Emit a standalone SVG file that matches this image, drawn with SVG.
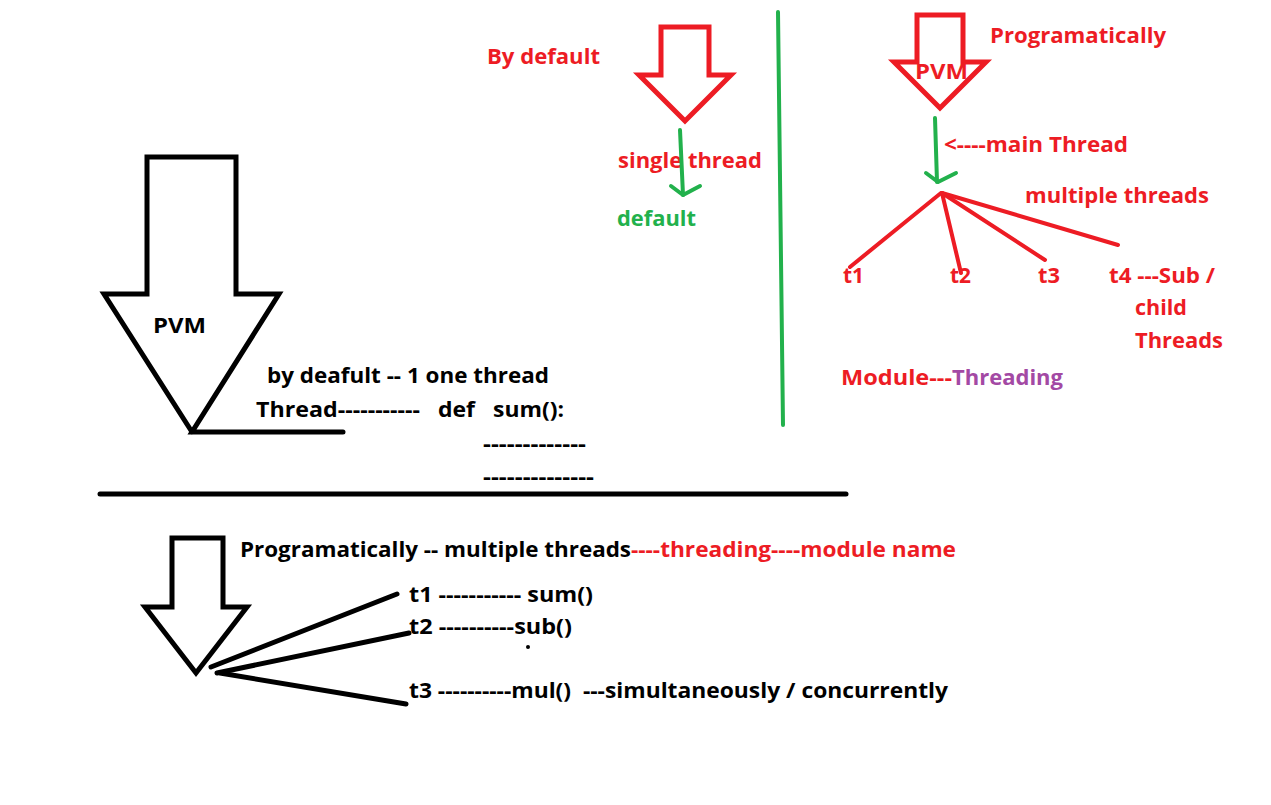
<svg xmlns="http://www.w3.org/2000/svg" width="1271" height="805" viewBox="0 0 1271 805">
<style>
text{font-family:"Open Sans","Noto Sans","Liberation Sans",sans-serif;font-weight:bold;font-size:21px}
.r{fill:#ed1c24}.g{fill:#22b14c}.p{fill:#a349a4}.k{fill:#000}
.sr{fill:none;stroke:#ed1c24;stroke-width:5;stroke-linejoin:miter;stroke-linecap:round}
.sg{fill:none;stroke:#22b14c;stroke-width:4;stroke-linecap:round;stroke-linejoin:round}
.sk{fill:none;stroke:#000;stroke-width:5;stroke-linejoin:miter;stroke-linecap:round}
.lr{stroke:#ed1c24;stroke-width:4;stroke-linecap:round}
.lk{stroke:#000;stroke-width:5;stroke-linecap:round}
.b{font-size:22px}
</style>
<rect width="1271" height="805" fill="#fff"/>

<g id="default-arrow">
<polygon class="sr" points="661,27 709,27 709,75 731,75 685,121 639,75 661,75"/>
<text class="r" x="487" y="64" textLength="113" lengthAdjust="spacingAndGlyphs">By default</text>
</g>
<g id="single-thread">
<text class="r" x="618" y="168" textLength="144" lengthAdjust="spacingAndGlyphs">single thread</text>
<text class="g" x="617" y="226" textLength="79" lengthAdjust="spacingAndGlyphs">default</text>
</g>

<g id="prog-arrow">
<polygon class="sr" points="917,15 963,15 963,62 986,62 940,108 894,62 917,62"/>
<text class="r" x="990" y="43" textLength="176" lengthAdjust="spacingAndGlyphs">Programatically</text>
<text class="r" x="915" y="79" font-size="20" textLength="53" lengthAdjust="spacingAndGlyphs">PVM</text>
</g>
<g id="main-thread">
<text class="r" x="944" y="152" textLength="184" lengthAdjust="spacingAndGlyphs">&lt;----main Thread</text>
<text class="r" x="1025" y="203" textLength="184" lengthAdjust="spacingAndGlyphs">multiple threads</text>
</g>
<g id="threads-top">
<text class="r" x="843" y="283" textLength="21" lengthAdjust="spacingAndGlyphs">t1</text>
<text class="r" x="950" y="283" textLength="21" lengthAdjust="spacingAndGlyphs">t2</text>
<text class="r" x="1038" y="283" textLength="22" lengthAdjust="spacingAndGlyphs">t3</text>
<text class="r" x="1109" y="283" textLength="106" lengthAdjust="spacingAndGlyphs">t4 ---Sub /</text>
<text class="r" x="1135" y="315" textLength="52" lengthAdjust="spacingAndGlyphs">child</text>
<text class="r" x="1135" y="348" textLength="88" lengthAdjust="spacingAndGlyphs">Threads</text>
</g>
<g id="module">
<text class="r" x="841" y="385" textLength="111" lengthAdjust="spacingAndGlyphs">Module---</text>
<text class="p" x="952" y="385" textLength="111" lengthAdjust="spacingAndGlyphs">Threading</text>
</g>

<g id="pvm-big">
<polyline class="sk" points="192,432 104,294 147,294 147,157 236,157 236,294 279,294 192,432 343,432"/>
<text class="k" x="153" y="333" font-size="20" textLength="53" lengthAdjust="spacingAndGlyphs">PVM</text>
</g>
<g id="default-code">
<text class="k" x="267" y="383" font-size="20" textLength="282" lengthAdjust="spacingAndGlyphs">by deafult -- 1 one thread</text>
<text class="k" x="256" y="417" font-size="20" textLength="164" lengthAdjust="spacingAndGlyphs">Thread-----------</text>
<text class="k" x="438" y="417" font-size="20" textLength="37" lengthAdjust="spacingAndGlyphs">def</text>
<text class="k" x="493" y="417" font-size="20" textLength="71" lengthAdjust="spacingAndGlyphs">sum():</text>
<text class="k" x="483" y="451" font-size="20" textLength="103" lengthAdjust="spacingAndGlyphs">-------------</text>
<text class="k" x="483" y="484" font-size="20" textLength="111" lengthAdjust="spacingAndGlyphs">--------------</text>
</g>

<g id="pvm-small">
<polygon class="sk" points="172,538 223,538 223,607 247,607 196,673 145,607 172,607"/>
</g>
<g id="prog-code">
<text class="k b" x="240" y="557" textLength="391" lengthAdjust="spacingAndGlyphs">Programatically -- multiple threads</text>
<text class="r b" x="631" y="557" textLength="325" lengthAdjust="spacingAndGlyphs">----threading----module name</text>
<text class="k b" x="409" y="602" textLength="184" lengthAdjust="spacingAndGlyphs">t1 ----------- sum()</text>
<text class="k b" x="409" y="634" textLength="163" lengthAdjust="spacingAndGlyphs">t2 ----------sub()</text>
<text class="k b" x="409" y="698" xml:space="preserve" textLength="539" lengthAdjust="spacingAndGlyphs">t3 ----------mul()  ---simultaneously / concurrently</text>
<circle cx="528" cy="647" r="2" fill="#000"/>
</g>

<g id="connectors">
<line class="sg" x1="778" y1="12" x2="783" y2="425"/>
<line class="sg" x1="680" y1="130" x2="683" y2="195"/>
<polyline class="sg" points="671,186 683,195 700,186"/>
<line class="sg" x1="935" y1="118" x2="937" y2="182"/>
<polyline class="sg" points="926,173 938,182 956,173"/>
<line class="lr" x1="941" y1="193" x2="850" y2="267"/>
<line class="lr" x1="942" y1="193" x2="961" y2="273"/>
<line class="lr" x1="942" y1="193" x2="1045" y2="260"/>
<line class="lr" x1="942" y1="193" x2="1118" y2="245"/>
<line class="lk" x1="100" y1="494" x2="846" y2="494" stroke-width="4"/>
<line class="lk" x1="211" y1="667" x2="397" y2="594"/>
<line class="lk" x1="217" y1="673" x2="409" y2="633"/>
<line class="lk" x1="220" y1="673" x2="406" y2="704"/>
</g>
</svg>
